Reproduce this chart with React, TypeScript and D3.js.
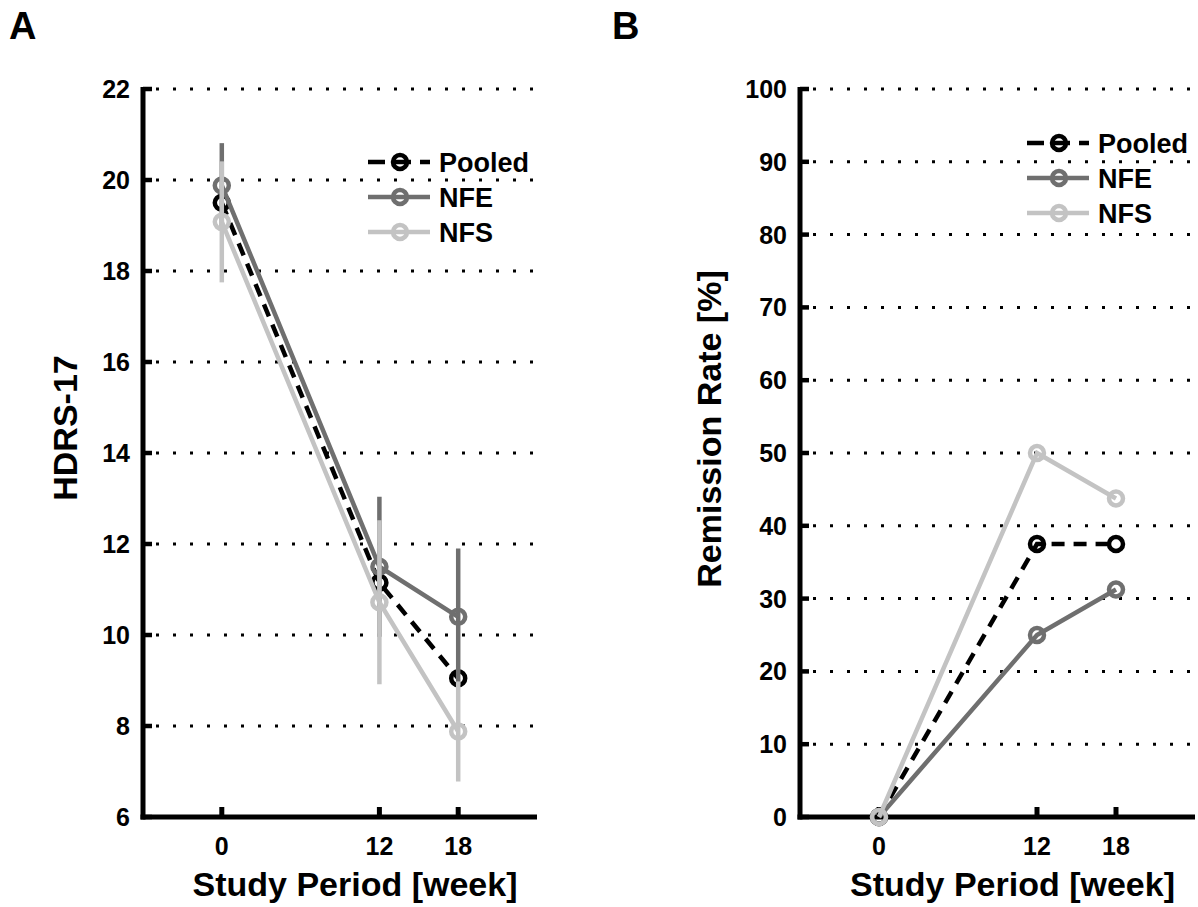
import React from 'react';
import * as d3 from 'd3';

// ---------- data ----------
const weeks = [0, 12, 18];
const weekTicks = [0, 12, 18];
const hdrsTicks = [6, 8, 10, 12, 14, 16, 18, 20, 22];
const remTicks = [0, 10, 20, 30, 40, 50, 60, 70, 80, 90, 100];

const hdrsPooled = [19.5, 11.15, 9.05];
const hdrsNFE = [19.88, 11.5, 10.4];
const hdrsNFEErr = [0.93, 1.54, 1.5];
const hdrsNFS = [19.08, 10.72, 7.88];
const hdrsNFSErr = [1.33, 1.8, 1.1];

const remPooled = [0, 37.5, 37.5];
const remNFE = [0, 25, 31.25];
const remNFS = [0, 50, 43.75];

const seriesNames = ['Pooled', 'NFE', 'NFS'];
const seriesColors = ['#000000', '#6f6f6f', '#c3c3c3'];

const FONT = '"Liberation Sans", Arial, Helvetica, sans-serif';

type Series = { name: string; color: string; values: number[]; err?: number[]; dashed?: boolean };

type PanelProps = {
  letter: string;
  letterX: number;
  x0: number;
  x1: number;
  yTop: number;
  yBot: number;
  yDomain: [number, number];
  yTicks: number[];
  yLabel: string;
  yLabelX: number;
  yLabelY: number;
  series: Series[];
  legendX: number;
  legendY: number;
};

function Panel(p: PanelProps) {
  const x = d3.scaleLinear().domain([-6, 24]).range([p.x0, p.x1]);
  const y = d3.scaleLinear().domain(p.yDomain).range([p.yBot, p.yTop]);
  const line = d3
    .line<number>()
    .x((_, i) => x(weeks[i]))
    .y((d) => y(d));
  const tickFs = 25;
  const labFs = 34;
  const legFs = 27;
  const legGap = 35;
  const lw = 4.5;
  return (
    <g>
      <text x={p.letterX} y={39} fontFamily={FONT} fontWeight="bold" fontSize={38}>
        {p.letter}
      </text>
      {p.yTicks.slice(1).map((t) => (
        <line
          key={'g' + t}
          x1={p.x0 + 13}
          x2={p.x1}
          y1={y(t)}
          y2={y(t)}
          stroke="#000"
          strokeWidth={3}
          strokeDasharray="3 14"
        />
      ))}
      <line x1={p.x0} x2={p.x0} y1={y(p.yDomain[1]) - 2} y2={p.yBot + 2.5} stroke="#000" strokeWidth={5} />
      <line x1={p.x0 - 2.5} x2={p.x1} y1={p.yBot} y2={p.yBot} stroke="#000" strokeWidth={5} />
      {p.yTicks.map((t) => (
        <g key={'yt' + t}>
          <line x1={p.x0} x2={p.x0 + 9} y1={y(t)} y2={y(t)} stroke="#000" strokeWidth={4.5} />
          <text
            x={p.x0 - 13}
            y={y(t) + tickFs * 0.36}
            textAnchor="end"
            fontFamily={FONT}
            fontWeight="bold"
            fontSize={tickFs}
          >
            {t}
          </text>
        </g>
      ))}
      {weekTicks.map((t) => (
        <g key={'xt' + t}>
          <line x1={x(t)} x2={x(t)} y1={p.yBot} y2={p.yBot - 10} stroke="#000" strokeWidth={5} />
          <text x={x(t)} y={855} textAnchor="middle" fontFamily={FONT} fontWeight="bold" fontSize={tickFs}>
            {t}
          </text>
        </g>
      ))}
      <text
        x={(p.x0 + p.x1) / 2 + 15}
        y={896}
        textAnchor="middle"
        fontFamily={FONT}
        fontWeight="bold"
        fontSize={labFs}
      >
        Study Period [week]
      </text>
      <text
        transform={`translate(${p.yLabelX},${p.yLabelY}) rotate(-90)`}
        textAnchor="middle"
        fontFamily={FONT}
        fontWeight="bold"
        fontSize={labFs}
      >
        {p.yLabel}
      </text>
      {p.series.map((s) => (
        <g key={s.name}>
          {s.err &&
            s.values.map((v, i) => (
              <line
                key={'e' + i}
                x1={x(weeks[i])}
                x2={x(weeks[i])}
                y1={y(v - s.err![i])}
                y2={y(v + s.err![i])}
                stroke={s.color}
                strokeWidth={lw}
              />
            ))}
          <path
            d={line(s.values) || ''}
            fill="none"
            stroke={s.color}
            strokeWidth={lw}
            strokeDasharray={s.dashed ? '13 9' : undefined}
          />
          {s.values.map((v, i) => (
            <circle key={'c' + i} cx={x(weeks[i])} cy={y(v)} r={7} fill="none" stroke={s.color} strokeWidth={lw} />
          ))}
        </g>
      ))}
      {p.series.map((s, i) => {
        const ly = p.legendY + i * legGap;
        return (
          <g key={'l' + s.name}>
            <line
              x1={p.legendX}
              x2={p.legendX + 62}
              y1={ly}
              y2={ly}
              stroke={s.color}
              strokeWidth={lw}
              strokeDasharray={s.dashed ? '17 9' : undefined}
            />
            <circle cx={p.legendX + 32} cy={ly} r={7} fill="none" stroke={s.color} strokeWidth={lw} />
            <text
              x={p.legendX + 71}
              y={ly + legFs * 0.36}
              fontFamily={FONT}
              fontWeight="bold"
              fontSize={legFs}
            >
              {s.name}
            </text>
          </g>
        );
      })}
    </g>
  );
}

export default function App() {
  const seriesA: Series[] = [
    { name: seriesNames[0], color: seriesColors[0], values: hdrsPooled, dashed: true },
    { name: seriesNames[1], color: seriesColors[1], values: hdrsNFE, err: hdrsNFEErr },
    { name: seriesNames[2], color: seriesColors[2], values: hdrsNFS, err: hdrsNFSErr },
  ];
  const seriesB: Series[] = [
    { name: seriesNames[0], color: seriesColors[0], values: remPooled, dashed: true },
    { name: seriesNames[1], color: seriesColors[1], values: remNFE },
    { name: seriesNames[2], color: seriesColors[2], values: remNFS },
  ];
  return (
    <svg width={1198} height={907} style={{ position: 'absolute', left: 0, top: 0, background: '#fff' }}>
      <rect width={1198} height={907} fill="#fff" />
      <Panel
        letter="A"
        letterX={9}
        x0={143}
        x1={537}
        yTop={89}
        yBot={817}
        yDomain={[6, 22]}
        yTicks={hdrsTicks}
        yLabel="HDRS-17"
        yLabelX={77}
        yLabelY={428}
        series={seriesA}
        legendX={368}
        legendY={162}
      />
      <Panel
        letter="B"
        letterX={612}
        x0={800}
        x1={1195}
        yTop={89}
        yBot={817}
        yDomain={[0, 100]}
        yTicks={remTicks}
        yLabel="Remission Rate [%]"
        yLabelX={721}
        yLabelY={429}
        series={seriesB}
        legendX={1027}
        legendY={143}
      />
    </svg>
  );
}
